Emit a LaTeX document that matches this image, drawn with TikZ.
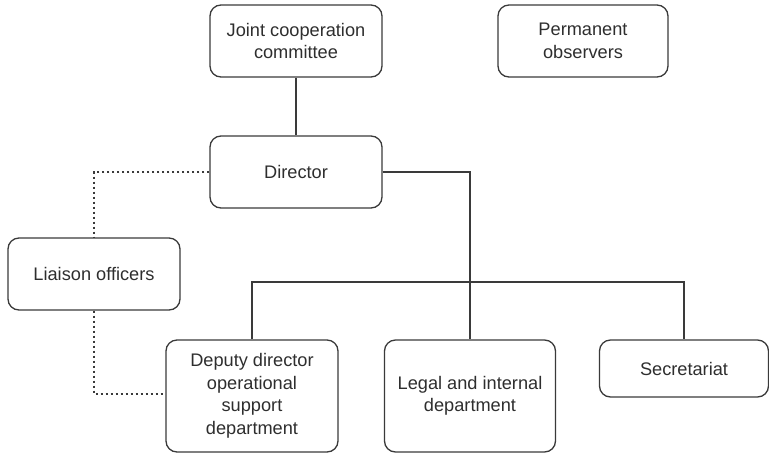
\documentclass[tikz,border=0pt]{standalone}
\usepackage{fontspec}
\setmainfont{Liberation Sans}
\begin{document}
\begin{tikzpicture}[x=1pt,y=-1pt,
  box/.style={draw=linec, line width=1.3pt, rounded corners=11pt, align=center, inner sep=0pt,
    text=textc, font=\fontsize{18.2}{22.5}\selectfont},
  conn/.style={draw=linec, line width=1.2pt},
  dotconn/.style={draw=linec, line width=1.2pt, dash pattern=on 2.5pt off 2.5pt}]
\definecolor{linec}{HTML}{3A3A3A}
\definecolor{textc}{HTML}{2E2E2E}
\useasboundingbox (0,0) rectangle (769,456);
\node[box, minimum width=172pt, minimum height=72pt] (jcc) at (296,41) {Joint cooperation\\committee};
\node[box, minimum width=170pt, minimum height=72pt] (po) at (583,41) {Permanent\\observers};
\node[box, minimum width=172pt, minimum height=72pt] (dir) at (296,172) {Director};
\node[box, minimum width=172pt, minimum height=72pt] (lia) at (94,274) {Liaison officers};
\node[box, minimum width=172pt, minimum height=112pt] (dep) at (252,396) {Deputy director\\operational\\support\\department};
\node[box, minimum width=171pt, minimum height=112pt] (leg) at (470,396) {Legal and internal\\department};
\node[box, minimum width=169pt, minimum height=57pt] (sec) at (684,368.5) {Secretariat};
\coordinate (busc) at (470,282);
\draw[conn] (jcc) -- (dir);
\draw[conn] (dir.east) -| (busc) -- (leg.north);
\draw[conn] (dep.north) |- (busc) -| (sec.north);
\draw[dotconn] (dir.west) -| (lia.north);
\draw[dotconn] (lia.south) |- ([yshift=2pt]dep.west);
\end{tikzpicture}
\end{document}
